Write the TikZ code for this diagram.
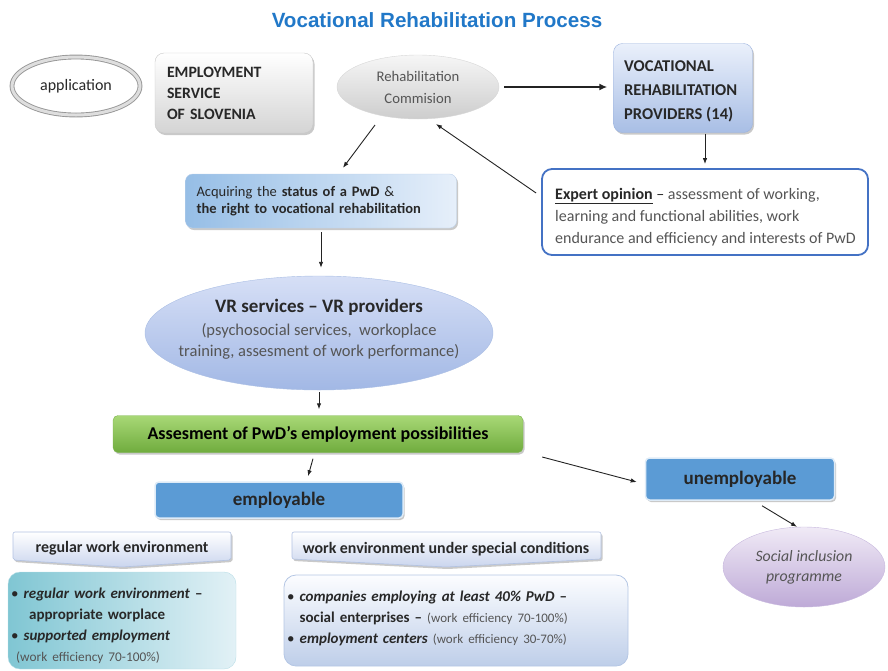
\documentclass[tikz,border=0pt]{standalone}
\usepackage{fontspec}
\setmainfont{Carlito}
\newfontfamily\titlefont{Liberation Sans}
\usetikzlibrary{shapes.geometric,shadows,arrows.meta,calc}
\newcommand\fsz[2]{\fontsize{#1}{#2}\selectfont}
\definecolor{titleblue}{RGB}{33,120,200}
\definecolor{textdark}{RGB}{40,40,40}
\definecolor{textgray}{RGB}{85,85,85}
\definecolor{arrcol}{RGB}{35,35,35}
\definecolor{appedge}{RGB}{150,150,150}
\definecolor{appdouble}{RGB}{222,222,222}
\definecolor{essbot}{RGB}{212,212,212}
\definecolor{essdraw}{RGB}{200,200,200}
\definecolor{commtop}{RGB}{246,246,246}
\definecolor{commbot}{RGB}{205,205,205}
\definecolor{commdraw}{RGB}{215,215,215}
\definecolor{vrptop}{RGB}{234,240,251}
\definecolor{vrpbot}{RGB}{168,190,229}
\definecolor{vrpdraw}{RGB}{155,178,222}
\definecolor{expertdraw}{RGB}{68,114,196}
\definecolor{acqleft}{RGB}{150,190,230}
\definecolor{acqright}{RGB}{230,239,250}
\definecolor{acqdraw}{RGB}{190,210,235}
\definecolor{vrtop}{RGB}{214,223,246}
\definecolor{vrbot}{RGB}{162,184,229}
\definecolor{vrdraw}{RGB}{170,190,228}
\definecolor{greentop}{RGB}{168,216,118}
\definecolor{greenbot}{RGB}{112,172,62}
\definecolor{greendraw}{RGB}{125,180,80}
\definecolor{emplfill}{RGB}{91,155,213}
\definecolor{soctop}{RGB}{240,234,246}
\definecolor{socbot}{RGB}{190,170,215}
\definecolor{socdraw}{RGB}{200,185,222}
\definecolor{headbot}{RGB}{202,213,238}
\definecolor{headdraw}{RGB}{178,194,226}
\definecolor{regleft}{RGB}{128,198,211}
\definecolor{regright}{RGB}{226,241,246}
\definecolor{regdraw}{RGB}{185,222,230}
\definecolor{spectop}{RGB}{252,253,255}
\definecolor{specbot}{RGB}{190,206,233}
\definecolor{specdraw}{RGB}{180,198,228}
\begin{document}
\begin{tikzpicture}[x=1pt,y=-1pt,
  arr/.style={-{Latex[length=6pt,width=4.5pt]}, line width=0.9pt, draw=arrcol},
  thickarr/.style={-{Latex[length=8pt,width=7pt]}, line width=2.6pt, draw=arrcol},
  shad/.style={drop shadow={shadow xshift=1.5pt, shadow yshift=-2pt, opacity=0.3, fill=black!70}},
  essbox/.style={rectangle, rounded corners=9pt, minimum width=158pt, minimum height=80pt,
    text width=134pt, inner xsep=12pt, inner ysep=0pt, align=left,
    top color=white, bottom color=essbot, draw=essdraw, shad,
    font=\bfseries\fsz{15.8}{21}, text=textdark},
  vrpbox/.style={rectangle, rounded corners=9pt, minimum width=139pt, minimum height=89pt,
    top color=vrptop, bottom color=vrpbot, draw=vrpdraw, shad},
  acqbox/.style={rectangle, rounded corners=7pt, minimum width=271pt, minimum height=54pt,
    text width=249pt, inner xsep=11pt, inner ysep=0pt, align=left,
    left color=acqleft, right color=acqright, draw=acqdraw, shad,
    font=\fsz{14.5}{17}, text=textdark},
  greenbox/.style={rectangle, rounded corners=5pt, minimum width=410pt, minimum height=37pt,
    top color=greentop, bottom color=greenbot, draw=greendraw, shad,
    font=\bfseries\fsz{18}{21}, text=black},
  bluebtn/.style={rectangle, rounded corners=4pt, fill=emplfill, draw=white!80!emplfill,
    line width=1.5pt, shad, font=\bfseries\fsz{19}{22}, text=black!85},
  headshape/.style={top color=white, bottom color=headbot, draw=headdraw, line width=0.6pt,
    rounded corners=2pt, shad},
  headtext/.style={font=\bfseries\fsz{15.9}{18}, text=textdark, inner sep=0pt},
  contenttext/.style={anchor=north west, inner sep=0pt, align=left, text=textdark}
]
\useasboundingbox (0,0) rectangle (888,670);

\node[font=\titlefont\bfseries\fsz{20.6}{24}, text=titleblue] (title) at (437,20) {Vocational Rehabilitation Process};

\node[ellipse, minimum width=128pt, minimum height=58pt, inner sep=0pt, draw=appedge,
  double=appdouble, double distance=3pt, line width=0.9pt, fill=white,
  font=\fsz{16}{18}, text=textdark] (app) at (76,86) {application};

\node[essbox] (ess) at (234,93) {EMPLOYMENT\\SERVICE\\OF SLOVENIA};

\node[ellipse, minimum width=162pt, minimum height=64pt, inner sep=0pt,
  top color=commtop, bottom color=commbot, draw=commdraw, align=center,
  font=\fsz{14.7}{22}, text=textgray] (comm) at (418,87) {Rehabilitation\\Commision};

\node[vrpbox] (vrp) at (683,88) {};
\node[anchor=west, inner sep=0pt, align=left, font=\bfseries\fsz{16.5}{24}, text=textdark]
  (vrptext) at (624,91) {VOCATIONAL\\REHABILITATION\\PROVIDERS (14)};

\node[rectangle, rounded corners=10pt, minimum width=326pt, minimum height=86pt,
  draw=expertdraw, line width=1.8pt, fill=white] (expert) at (705,212) {};
\node[anchor=west, inner sep=0pt, align=left, font=\fsz{16}{22}, text=textgray] (experttext) at (555,217)
  {\textcolor{textdark}{\underline{\textbf{Expert opinion}} –} assessment of working,\\learning and functional abilities, work\\endurance and efficiency and interests of PwD};

\node[acqbox] (acq) at (321,201) {Acquiring the \textbf{status of a PwD} \&\\\textbf{the right to vocational rehabilitation}};

\node[ellipse, minimum width=348pt, minimum height=114pt, inner sep=0pt,
  top color=vrtop, bottom color=vrbot, draw=vrdraw] (vr) at (319,333) {};
\node[align=center, inner sep=0pt, font=\fsz{16.5}{21}, text=textgray] (vrtext) at (319,329)
  {{\fsz{19}{21}\bfseries\color{textdark}VR services – VR providers}\\[2pt](psychosocial services,\ \ workoplace\\training, assesment of work performance)};

\node[greenbox] (green) at (318,434) {Assesment of PwD's employment possibilities};

\node[bluebtn, minimum width=248pt, minimum height=36pt] (empl) at (279,500) {employable};
\node[bluebtn, minimum width=189pt, minimum height=42pt] (unempl) at (740,479) {unemployable};

\node[ellipse, minimum width=162pt, minimum height=80pt, inner sep=0pt,
  top color=soctop, bottom color=socbot, draw=socdraw, align=center,
  font=\itshape\fsz{15.8}{20}, text=textgray] (social) at (804,567) {Social inclusion\\programme};

% section headers
\path[headshape] (13,532) -- (231,532) -- (231,560) -- (122,567) -- (13,560) -- cycle;
\node[headtext] (reghead) at (122,548) {regular work environment};
\path[headshape] (292,532) -- (601,532) -- (601,559) -- (446,567) -- (292,559) -- cycle;
\node[headtext] (spechead) at (446,549) {work environment under special conditions};

% content boxes
\node[rectangle, rounded corners=12pt, minimum width=228pt, minimum height=97pt,
  left color=regleft, right color=regright, draw=regdraw] (regbox) at (122,620.5) {};
\node[contenttext, text width=220pt, font=\fsz{15}{21}] (regtext) at (11,588)
  {\textbullet\ \textbf{\textit{regular work environment} –}\\
   \hspace*{18pt}\textbf{appropriate worplace}\\
   \textbullet\ \textbf{\textit{supported employment}}\\
   \hspace*{5pt}{\fsz{13.3}{21}\color{textgray}(work efficiency 70-100\%)}};

\node[rectangle, rounded corners=12pt, minimum width=344pt, minimum height=91pt,
  top color=spectop, bottom color=specbot, draw=specdraw, line width=0.8pt] (specbox) at (456,620.5) {};
\node[contenttext, text width=335pt, font=\fsz{15}{21}] (spectext) at (287,591)
  {\textbullet\ \textbf{\textit{companies employing at least 40\% PwD} –}\\
   \phantom{\textbullet\ }\textbf{social enterprises –} {\fsz{13}{21}\color{textgray}(work efficiency 70-100\%)}\\
   \textbullet\ \textbf{\textit{employment centers}} {\fsz{13}{21}\color{textgray}(work efficiency 30-70\%)}};

% connectors
\draw[thickarr, shorten <=5pt, shorten >=6pt] (comm.east) -- (comm.east -| vrp.west);
\draw[arr, shorten <=1pt, shorten >=4pt] (vrp.south -| expert.north) -- (expert.north);
\draw[arr] ($(expert.west)+(-5,-19)$) -- ($(comm.center)+(18,37)$);
\draw[arr] ($(comm.center)+(-43,38)$) -- ($(acq.north)+(22,-6)$);
\draw[arr, shorten <=4pt, shorten >=8pt] (acq.south) -- (acq.south |- vr.north);
\draw[arr, shorten <=2pt, shorten >=6pt] (vr.south) -- (vr.south |- green.north);
\draw[arr] ($(green.south)+(-5,6)$) -- ($(empl.north)+(29,-5)$);
\draw[arr] ($(green.east)+(19,23)$) -- ($(unempl.west)+(-8,3)$);
\draw[arr] ($(unempl.south)+(22,5)$) -- ($(social.north)+(-7,0)$);
\end{tikzpicture}
\end{document}
